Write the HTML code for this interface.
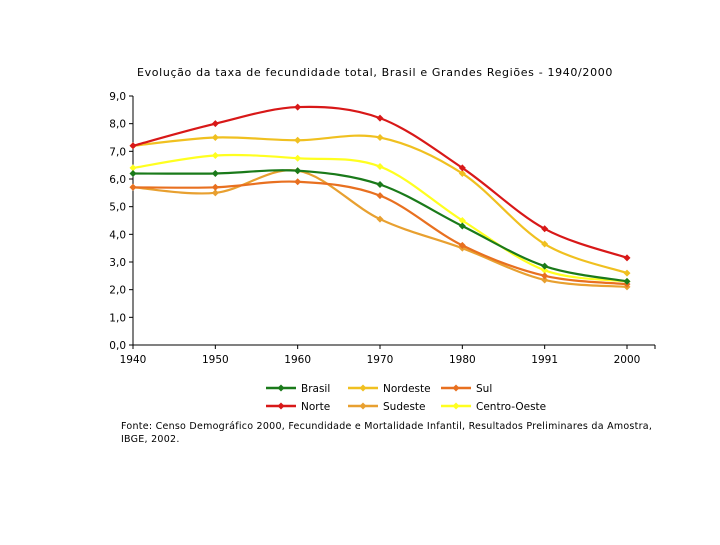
<!DOCTYPE html>
<html><head><meta charset="utf-8"><style>
body{margin:0;background:#fff;width:720px;height:540px;overflow:hidden}
text{font-family:"DejaVu Sans","Liberation Sans",sans-serif;font-size:10.5px;fill:#000}
</style></head><body>
<svg id="chart" width="720" height="540" xmlns="http://www.w3.org/2000/svg">
<text x="375" y="76" text-anchor="middle" style="font-size:11px;letter-spacing:0.65px">Evolução da taxa de fecundidade total, Brasil e Grandes Regiões - 1940/2000</text>
<g id="axes"></g><g id="series"></g><g id="legend"></g>
<text x="121" y="429" style="font-size:9.5px;letter-spacing:0.26px">Fonte: Censo Demográfico 2000, Fecundidade e Mortalidade Infantil, Resultados Preliminares da Amostra,</text>
<text x="121" y="442" style="font-size:9.5px;letter-spacing:0.26px">IBGE, 2002.</text>
</svg>
<script>
const categories=["1940","1950","1960","1970","1980","1991","2000"];
const yTicks=[0,1,2,3,4,5,6,7,8,9];
const seriesNames=["Brasil","Nordeste","Sul","Norte","Sudeste","Centro-Oeste"];
const seriesColors=["#1a7a1a","#f0c020","#e87020","#d81818","#e8a030","#ffff20"];
const brasil=[6.2,6.2,6.3,5.8,4.3,2.85,2.3];
const nordeste=[7.2,7.5,7.4,7.5,6.2,3.65,2.6];
const sul=[5.7,5.7,5.9,5.4,3.6,2.5,2.2];
const norte=[7.2,8.0,8.6,8.2,6.4,4.2,3.15];
const sudeste=[5.7,5.5,6.3,4.55,3.5,2.35,2.1];
const centroOeste=[6.4,6.85,6.75,6.45,4.5,2.7,2.3];
const data=[brasil,nordeste,sul,norte,sudeste,centroOeste];
const X0=133,X1=627,Y0=345,Y9=96;
const x=i=>X0+i*(X1-X0)/(categories.length-1);
const y=v=>Y0-v*(Y0-Y9)/9;
const NS="http://www.w3.org/2000/svg";
function mk(t,a,p){const e=document.createElementNS(NS,t);for(const k in a)e.setAttribute(k,a[k]);p.appendChild(e);return e;}
const ax=document.getElementById('axes');
let l=mk('line',{x1:X0,y1:Y9,x2:X0,y2:Y0,stroke:'#000'},ax);


l=mk('line',{x1:X0,y1:Y0,x2:655,y2:Y0,stroke:'#000'},ax);


yTicks.forEach(v=>{mk('line',{x1:X0-4,y1:y(v),x2:X0,y2:y(v),stroke:'#000'},ax);
const t=mk('text',{x:X0-7,y:y(v)+4,'text-anchor':'end'},ax);t.textContent=v.toFixed(1).replace('.',',');

});
categories.forEach((c,i)=>{mk('line',{x1:x(i),y1:Y0,x2:x(i),y2:Y0+4,stroke:'#000'},ax);
const t=mk('text',{x:x(i),y:Y0+18,'text-anchor':'middle'},ax);t.textContent=c;

});
mk('line',{x1:655,y1:Y0,x2:655,y2:Y0+4,stroke:'#000'},ax);
function path(pts){let d=`M${pts[0][0]},${pts[0][1]}`;for(let i=0;i<pts.length-1;i++){const p0=pts[Math.max(0,i-1)],p1=pts[i],p2=pts[i+1],p3=pts[Math.min(pts.length-1,i+2)];
d+=`C${p1[0]+(p2[0]-p0[0])/6},${p1[1]+(p2[1]-p0[1])/6} ${p2[0]-(p3[0]-p1[0])/6},${p2[1]-(p3[1]-p1[1])/6} ${p2[0]},${p2[1]}`;}return d;}
const sg=document.getElementById('series');
const order=[5,1,3,4,2,0];
order.forEach(s=>{const g=mk('g',{},sg);


const pts=data[s].map((v,i)=>[x(i),y(v)]);
mk('path',{d:path(pts),fill:'none',stroke:seriesColors[s],'stroke-width':2.2},g);
pts.forEach(p=>{const m=mk('polygon',{points:`${p[0]},${p[1]-3.5} ${p[0]+3.5},${p[1]} ${p[0]},${p[1]+3.5} ${p[0]-3.5},${p[1]}`,fill:seriesColors[s]},g);

});});
const lg=document.getElementById('legend');
const lx=[266,348,441],ly=[388,406];
seriesNames.forEach((n,k)=>{const cx=lx[k%3],cy=ly[Math.floor(k/3)];const g=mk('g',{},lg);


mk('line',{x1:cx,y1:cy,x2:cx+30,y2:cy,stroke:seriesColors[k],'stroke-width':2.5},g);
mk('polygon',{points:`${cx+15},${cy-3.5} ${cx+18.5},${cy} ${cx+15},${cy+3.5} ${cx+11.5},${cy}`,fill:seriesColors[k]},g);
const t=mk('text',{x:cx+35,y:cy+4},g);t.textContent=n;});
</script>
</body></html>
